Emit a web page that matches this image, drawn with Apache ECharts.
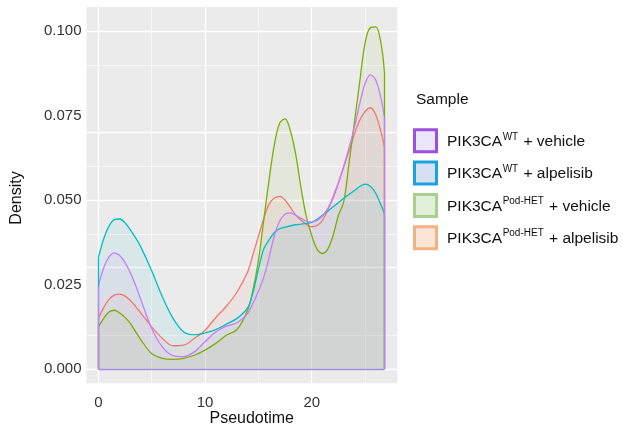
<!DOCTYPE html>
<html><head><meta charset="utf-8">
<script src="https://cdn.jsdelivr.net/npm/echarts@6/dist/echarts.min.js"></script>
<style>html,body{margin:0;padding:0;background:#fff}#c{width:623px;height:432px}</style>
</head><body><div id="c"></div>
<script>
// ---- data ----
const pseudotime = [0,0.5,1,1.5,2,2.5,3,3.5,4,5,6,7,8,9,10,11,12,13,14,14.5,15,15.5,16,16.5,17,17.5,18,18.5,19,19.5,20,20.5,21,21.5,22,22.5,23,23.5,24,24.5,25,25.5,26,26.5,26.81];

const densPodHetAlpelisib = [0.0150,0.0182,0.0206,0.0219,0.0222,0.0216,0.0203,0.0185,0.0165,0.0125,0.0091,0.0069,0.0071,0.0091,0.0115,0.0152,0.0186,0.0228,0.0288,0.0340,0.0392,0.0445,0.0488,0.0506,0.0511,0.0500,0.0478,0.0456,0.0440,0.0428,0.0421,0.0425,0.0440,0.0470,0.0510,0.0552,0.0598,0.0645,0.0695,0.0736,0.0762,0.0773,0.0752,0.0700,0.0657];
const densPodHetVehicle = [0.0125,0.0150,0.0169,0.0174,0.0166,0.0153,0.0135,0.0110,0.0086,0.0046,0.0032,0.0029,0.0032,0.0041,0.0056,0.0076,0.0100,0.0117,0.0175,0.0235,0.0320,0.0440,0.0560,0.0665,0.0728,0.0740,0.0705,0.0635,0.0535,0.0450,0.0395,0.0355,0.0342,0.0355,0.0395,0.0455,0.0495,0.0610,0.0730,0.0850,0.0965,0.1010,0.1012,0.0962,0.0880];
const densWtAlpelisib = [0.0330,0.0385,0.0423,0.0442,0.0444,0.0433,0.0412,0.0388,0.0360,0.0291,0.0214,0.0150,0.0110,0.0102,0.0107,0.0117,0.0133,0.0150,0.0182,0.0228,0.0295,0.0355,0.0382,0.0404,0.0415,0.0420,0.0424,0.0427,0.0429,0.0431,0.0434,0.0443,0.0455,0.0467,0.0480,0.0492,0.0505,0.0517,0.0528,0.0540,0.0547,0.0541,0.0520,0.0485,0.0460];
const densWtVehicle = [0.0245,0.0300,0.0332,0.0344,0.0336,0.0315,0.0285,0.0247,0.0204,0.0120,0.0066,0.0040,0.0037,0.0051,0.0081,0.0110,0.0127,0.0137,0.0165,0.0195,0.0230,0.0272,0.0330,0.0395,0.0438,0.0458,0.0462,0.0455,0.0446,0.0438,0.0435,0.0440,0.0452,0.0475,0.0505,0.0550,0.0600,0.0655,0.0715,0.0785,0.0845,0.0870,0.0855,0.0800,0.0746];

// legend labels (base, superscript, suffix) in legend order
const labelBase = ['PIK3CA','PIK3CA','PIK3CA','PIK3CA'];
const labelSup = ['WT','WT','Pod-HET','Pod-HET'];
const labelSuffix = [' + vehicle',' + alpelisib',' + vehicle',' + alpelisib'];

const xMajorTicks = [0,10,20];
const xMinorTicks = [5,15,25];
const yMajorTicks = [0,0.025,0.05,0.075,0.1];
const yMinorTicks = [0.0125,0.0375,0.0625,0.0875];

// ---- styling ----
const FONT = '"Liberation Sans", Arial, Helvetica, sans-serif';
const seriesNames = labelBase.map((b,i)=>b+'^'+labelSup[i]+labelSuffix[i]);
const lineColors = ['#C77CFF','#00BFC4','#7CAE00','#F8766D'];
const keyBorder = ['#9E4FE0','#1AA3E0','#A9D18E','#F4B183'];
const keyFill = ['#ECE6FB','#D6E0F0','#E2EFDA','#FBE5D6'];
const densities = [densWtVehicle, densWtAlpelisib, densPodHetVehicle, densPodHetAlpelisib];

function hexA(hex,a){const n=parseInt(hex.slice(1),16);return `rgba(${n>>16},${(n>>8)&255},${n&255},${a})`;}
const xEnd = pseudotime[pseudotime.length-1];

function makeSeries(idx, isTop){
  const vals = densities[idx];
  const edges = [
    [{coord:[pseudotime[0],0]},{coord:[pseudotime[0],vals[0]]}],
    [{coord:[xEnd,0]},{coord:[xEnd,vals[vals.length-1]]}]
  ];
  if (isTop) edges.push([{coord:[pseudotime[0],0]},{coord:[xEnd,0], lineStyle:{color:'#a08de6'}}]);
  return {
    name: seriesNames[idx], type:'line', z:3,
    data: pseudotime.map((x,i)=>[x, vals[i]]),
    smooth: 0.35, showSymbol:false, symbol:'none',
    lineStyle:{color: lineColors[idx], width:1.3},
    itemStyle:{color: lineColors[idx]},
    areaStyle:{color: hexA(lineColors[idx],0.1), origin:0},
    markLine:{silent:true, symbol:['none','none'], z:4, animation:false,
      label:{show:false}, lineStyle:{color: lineColors[idx], width:1.3, type:'solid'},
      emphasis:{disabled:true}, data: edges}
  };
}

const gridLines = [];
xMajorTicks.forEach(v=>gridLines.push({xAxis:v, lineStyle:{width:1.3}}));
xMinorTicks.forEach(v=>gridLines.push({xAxis:v, lineStyle:{width:0.6}}));
yMajorTicks.forEach(v=>gridLines.push({yAxis:v, lineStyle:{width:1.3}}));
yMinorTicks.forEach(v=>gridLines.push({yAxis:v, lineStyle:{width:0.6}}));

const isMult = (v,s)=>Math.abs(v/s - Math.round(v/s)) < 1e-6;

const option = {
  animation:false,
  grid:{left:86.5, right:225.7, top:7, bottom:48.7, show:true, backgroundColor:'#EBEBEB', borderWidth:0, z:0},
  xAxis:{type:'value', min:-1.11, max:28.02, minInterval:10, maxInterval:10,
    splitLine:{show:false}, axisLine:{show:false}, axisTick:{show:false},
    axisLabel:{margin:12, fontSize:15, color:'#333', fontFamily:FONT, showMinLabel:true, showMaxLabel:true,
      formatter:v=> (isMult(v,10) && xMajorTicks.indexOf(Math.round(v))>=0) ? String(Math.round(v)) : ''}},
  yAxis:{type:'value', min:-0.0042, max:0.1071, minInterval:0.025, maxInterval:0.025,
    splitLine:{show:false}, axisLine:{show:false}, axisTick:{show:false},
    axisLabel:{margin:5, fontSize:15, color:'#333', fontFamily:FONT,
      formatter:v=> (isMult(v,0.025) && v > -0.001) ? v.toFixed(3) : ''}},
  legend:{
    orient:'vertical', left:413, top:128.3, padding:0, itemWidth:22, itemHeight:22, itemGap:7.3,
    icon:'rect', selectedMode:false,
    data: seriesNames.map((n,i)=>({name:n, icon:'rect', itemStyle:{color:keyFill[i], borderColor:keyBorder[i], borderWidth:3, opacity:1}})),
    formatter: name => { const i = seriesNames.indexOf(name); return '{f|' + labelBase[i] + '}{s|' + labelSup[i] + '}{a|' + labelSuffix[i] + '}'; },
    textStyle:{fontSize:15.5, color:'#111', fontFamily:FONT,
      rich:{
        f:{fontSize:15.5, color:'#111', fontFamily:FONT, padding:[0,0,0,5.5], lineHeight:18, verticalAlign:'bottom'},
        a:{fontSize:15.5, color:'#111', fontFamily:FONT, lineHeight:18, verticalAlign:'bottom'},
        s:{fontSize:10, color:'#111', fontFamily:FONT, lineHeight:11, verticalAlign:'top', padding:[0,1,0,0.5]}
      }}
  },
  graphic:[
    {type:'text', left:416, top:92, style:{text:'Sample', font:'15.5px '+FONT, fill:'#111'}},
    {type:'text', x:251.7, y:419, style:{text:'Pseudotime', font:'16px '+FONT, fill:'#111', align:'center', verticalAlign:'middle'}},
    {type:'text', x:17, y:198, rotation:Math.PI/2, style:{text:'Density', font:'16px '+FONT, fill:'#111', align:'center', verticalAlign:'middle'}}
  ],
  series:[
    {type:'line', name:'__grid', data:[], z:1, silent:true,
      markLine:{silent:true, symbol:['none','none'], z:1, animation:false, label:{show:false},
        lineStyle:{color:'#ffffff', type:'solid'}, emphasis:{disabled:true}, data:gridLines}},
    makeSeries(3,false), makeSeries(2,false), makeSeries(1,false), makeSeries(0,true)
  ]
};
const chart = echarts.init(document.getElementById('c'), null, {renderer:'canvas'});
chart.setOption(option);
</script></body></html>
